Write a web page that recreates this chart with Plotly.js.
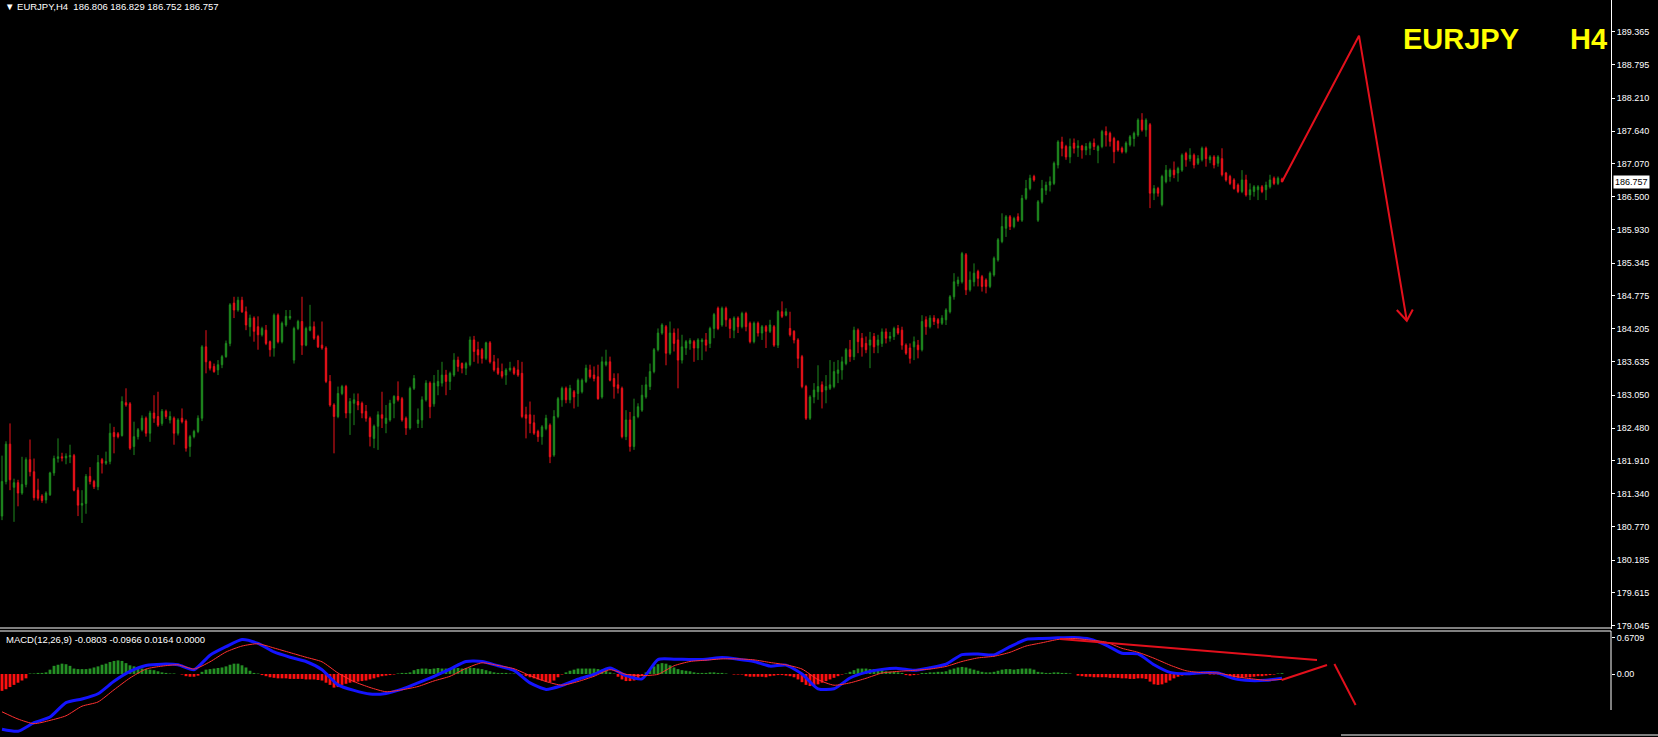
<!DOCTYPE html>
<html>
<head>
<meta charset="utf-8">
<script src="https://cdn.plot.ly/plotly-3.0.1.min.js"></script>
<style>
html,body{margin:0;padding:0;background:#000;}
#chart{width:1658px;height:737px;}
</style>
</head>
<body>
<div id="chart"></div>
<script>
// ---------- EURJPY H4 candles ----------
const open = [
180.95,181.55,182.20,181.45,181.53,181.35,181.50,181.93,181.72,181.40,
181.30,181.23,181.32,181.70,181.95,181.98,181.96,181.98,182.00,181.40,
181.14,181.17,181.64,181.55,181.46,181.93,181.87,181.90,182.40,182.38,
182.35,182.92,182.90,182.16,182.33,182.45,182.65,182.39,182.74,182.68,
182.56,182.77,182.62,182.65,182.39,182.65,182.60,182.16,182.33,182.42,
182.65,183.89,183.63,183.55,183.49,183.58,183.72,183.95,184.65,184.53,
184.70,184.50,184.24,184.39,184.24,184.10,184.18,183.98,183.87,184.44,
183.98,184.27,184.39,183.66,184.21,184.33,183.92,184.18,184.24,184.07,
183.92,183.87,183.29,182.88,182.68,183.08,183.20,182.74,182.91,182.94,
182.91,182.77,182.65,182.30,182.51,182.71,182.56,182.62,182.91,183.03,
182.99,182.65,182.48,183.17,182.56,182.62,182.97,183.26,182.90,183.21,
183.26,183.40,183.29,183.40,183.66,183.60,183.52,183.58,184.01,183.84,
183.84,183.69,183.96,183.63,183.52,183.46,183.40,183.49,183.52,183.49,
183.43,182.71,182.71,182.57,182.42,182.33,182.47,182.53,182.01,182.68,
182.97,183.17,182.97,183.11,183.08,183.11,183.29,183.49,183.40,183.37,
183.02,183.58,183.63,183.34,183.23,183.17,182.33,182.62,182.16,182.68,
182.79,183.02,183.20,183.46,183.84,184.13,184.24,183.78,184.13,184.01,
183.66,183.87,183.95,183.98,183.87,183.98,184.01,183.95,184.21,184.56,
184.27,184.56,184.36,184.18,184.39,184.24,184.47,184.30,183.98,184.30,
184.13,184.24,184.16,184.24,183.92,184.50,184.44,184.21,184.16,184.01,
183.72,183.20,182.65,183.02,183.11,183.23,183.14,183.17,183.20,183.43,
183.49,183.60,183.84,183.72,184.18,184.04,183.95,183.92,184.07,183.92,
183.95,184.15,184.04,184.07,184.21,184.18,183.92,183.87,183.89,183.92,
183.84,184.36,184.24,184.39,184.36,184.30,184.36,184.50,184.76,184.99,
185.02,185.49,184.88,185.02,185.20,185.11,185.05,184.94,185.14,185.40,
185.72,185.95,186.15,185.98,186.15,186.09,186.47,186.64,186.85,186.09,
186.41,186.61,186.70,186.73,187.05,187.45,187.37,187.19,187.43,187.35,
187.38,187.31,187.34,187.43,187.30,187.37,187.63,187.60,187.51,187.46,
187.34,187.28,187.40,187.51,187.57,187.83,187.66,187.75,186.56,186.64,
186.36,186.76,186.85,186.96,186.91,186.96,187.25,187.16,187.22,187.08,
187.14,187.34,187.14,187.19,187.08,187.16,186.91,186.85,186.79,186.70,
186.59,186.79,186.53,186.59,186.62,186.67,186.62,186.67,186.82,186.73,
186.806];

const high = [
182.00,182.25,182.56,181.60,181.58,181.98,181.97,182.28,181.95,181.60,
181.33,181.38,181.72,182.00,182.30,182.05,182.04,182.19,182.03,181.45,
181.40,181.68,181.80,181.58,182.01,181.96,182.07,182.56,182.50,182.41,
183.03,183.17,182.93,182.59,182.48,182.70,182.68,182.78,183.05,183.11,
182.81,182.80,182.77,182.68,182.65,182.82,182.63,182.36,182.45,182.70,
183.92,184.18,183.65,183.60,183.66,183.75,184.00,184.65,184.76,184.76,
184.76,184.59,184.45,184.42,184.42,184.24,184.27,184.00,184.47,184.47,
184.33,184.53,184.53,184.24,184.36,184.76,184.24,184.62,184.33,184.10,
184.33,183.90,183.40,182.91,183.20,183.23,183.23,183.00,183.08,183.08,
182.94,182.88,182.68,182.54,182.77,183.11,182.88,182.97,183.05,183.29,
183.02,182.68,183.20,183.40,182.82,183.03,183.31,183.29,183.40,183.49,
183.63,183.49,183.46,183.78,183.72,183.62,183.63,184.07,184.08,183.98,
183.87,183.98,183.99,183.75,183.69,183.60,183.52,183.63,183.55,183.66,
183.63,182.85,182.94,182.71,182.45,182.53,182.71,182.56,182.79,183.02,
183.20,183.20,183.23,183.14,183.34,183.34,183.58,183.58,183.55,183.58,
183.72,183.84,183.72,183.43,183.43,183.20,182.79,182.76,182.99,182.91,
183.23,183.37,183.60,183.87,184.21,184.30,184.27,184.33,184.21,184.21,
184.10,184.01,184.04,184.01,184.04,184.04,184.13,184.24,184.48,184.59,
184.59,184.59,184.39,184.42,184.42,184.50,184.50,184.33,184.33,184.33,
184.27,184.27,184.36,184.27,184.53,184.68,184.56,184.50,184.18,184.04,
183.75,183.23,183.05,183.26,183.57,183.29,183.40,183.66,183.63,183.66,
183.72,183.87,184.01,184.24,184.21,184.13,184.07,184.15,184.13,184.10,
184.21,184.21,184.15,184.24,184.27,184.24,183.95,183.95,184.07,184.01,
184.44,184.42,184.44,184.44,184.39,184.44,184.56,184.79,185.17,185.11,
185.54,185.52,185.20,185.34,185.23,185.14,185.08,185.20,185.46,185.78,
186.21,186.18,186.18,186.15,186.21,186.53,186.79,186.88,186.88,186.44,
186.79,186.76,186.85,187.11,187.48,187.54,187.40,187.51,187.51,187.48,
187.40,187.43,187.46,187.51,187.40,187.66,187.72,187.63,187.54,187.48,
187.37,187.46,187.57,187.63,187.86,187.95,187.86,187.78,186.70,186.67,
186.88,187.05,186.99,187.11,187.02,187.25,187.28,187.34,187.25,187.22,
187.37,187.37,187.22,187.22,187.22,187.34,186.93,186.88,186.82,186.73,
186.96,186.88,186.73,186.70,186.70,186.70,186.76,186.88,186.85,186.85,
186.829];

const low = [
180.88,181.50,181.40,180.85,181.12,181.32,181.45,181.64,181.22,181.22,
181.18,181.17,181.30,181.65,181.88,181.90,181.85,181.87,181.38,180.95,
180.83,180.99,181.50,181.42,181.40,181.69,181.84,181.85,182.04,182.30,
182.33,182.85,182.10,182.01,182.28,182.42,182.33,182.24,182.57,182.50,
182.52,182.64,182.56,182.19,182.35,182.56,182.07,181.98,182.30,182.39,
182.60,183.43,183.48,183.44,183.40,183.52,183.70,183.90,184.39,184.50,
184.48,184.18,184.07,183.98,183.84,184.07,183.92,183.72,183.72,183.95,
183.95,184.24,184.36,183.60,184.18,183.75,183.90,184.16,184.01,183.87,
183.84,183.26,182.85,182.04,182.65,183.05,182.65,182.36,182.53,182.79,
182.65,182.59,182.16,182.13,182.10,182.48,182.39,182.59,182.65,182.94,
182.59,182.36,182.45,183.14,182.48,182.48,182.94,182.65,182.85,183.05,
183.20,183.05,183.14,183.37,183.46,183.43,183.40,183.55,183.63,183.60,
183.60,183.66,183.60,183.46,183.40,183.34,183.23,183.46,183.40,183.37,
182.65,182.30,182.39,182.36,182.24,182.19,182.44,181.87,181.98,182.65,
182.85,182.91,182.91,182.82,182.85,183.08,183.26,183.34,183.29,182.97,
182.99,183.55,183.29,182.99,183.08,182.30,182.27,182.07,182.10,182.65,
182.76,182.99,183.14,183.43,183.81,184.10,183.57,183.75,183.81,183.17,
183.60,183.75,183.84,183.63,183.66,183.66,183.81,183.87,184.04,184.18,
184.24,184.24,184.04,184.04,184.13,184.21,184.16,183.95,183.95,184.07,
184.01,183.87,184.13,183.89,183.87,184.39,184.42,184.07,183.95,183.52,
183.17,182.62,182.62,182.91,182.97,182.82,182.91,183.14,183.17,183.26,
183.32,183.57,183.63,183.66,183.78,183.72,183.78,183.52,183.78,183.78,
183.89,183.95,183.98,184.01,184.10,183.84,183.75,183.60,183.66,183.69,
183.81,184.10,184.21,184.27,184.21,184.27,184.27,184.47,184.71,184.94,
184.99,184.79,184.85,184.94,184.94,184.85,184.82,184.91,185.11,185.37,
185.69,185.80,185.92,185.95,186.06,186.06,186.44,186.61,186.76,186.06,
186.38,186.53,186.59,186.70,186.99,187.20,187.14,187.08,187.25,187.19,
187.16,187.22,187.22,187.31,187.08,187.34,187.37,187.37,187.08,187.28,
187.25,187.25,187.37,187.37,187.54,187.63,187.54,186.30,186.44,186.50,
186.33,186.73,186.76,186.82,186.76,186.93,187.02,187.11,186.99,187.05,
187.11,187.02,187.08,186.99,187.02,186.85,186.76,186.70,186.62,186.56,
186.56,186.50,186.44,186.50,186.44,186.56,186.44,186.64,186.70,186.70,
186.752];

const close = [
181.55,182.20,181.58,181.53,181.35,181.50,181.93,181.72,181.27,181.26,
181.22,181.35,181.70,181.95,181.98,181.96,181.99,182.00,181.40,181.14,
181.17,181.64,181.55,181.46,181.88,181.87,181.90,182.39,182.33,182.33,
182.94,182.88,182.13,182.33,182.45,182.65,182.39,182.74,182.65,182.53,
182.77,182.68,182.68,182.39,182.62,182.59,182.13,182.33,182.42,182.65,
183.89,183.63,183.52,183.46,183.58,183.72,183.95,184.62,184.53,184.70,
184.50,184.27,184.39,184.16,184.10,184.21,183.95,183.84,184.44,183.98,
184.30,184.42,184.42,184.21,184.33,183.92,184.21,184.24,184.04,183.89,
183.87,183.29,182.88,182.68,183.08,183.20,182.74,182.94,182.97,182.88,
182.74,182.65,182.33,182.51,182.71,182.65,182.65,182.91,183.03,182.97,
182.62,182.48,183.17,183.34,182.62,182.97,183.26,182.85,183.26,183.29,
183.40,183.29,183.43,183.66,183.55,183.52,183.60,184.01,183.81,183.75,
183.69,183.96,183.63,183.49,183.43,183.38,183.49,183.52,183.43,183.40,
182.68,182.65,182.56,182.39,182.33,182.50,182.65,181.98,182.68,182.99,
183.17,182.97,183.17,183.02,183.31,183.31,183.52,183.37,183.34,182.99,
183.63,183.63,183.31,183.20,183.17,182.33,182.62,182.16,182.68,182.85,
183.05,183.23,183.46,183.84,184.13,184.27,183.78,184.13,183.95,183.66,
183.89,183.98,184.00,183.87,184.01,184.01,183.92,184.21,184.45,184.21,
184.56,184.36,184.21,184.39,184.24,184.47,184.24,183.98,184.30,184.13,
184.24,184.16,184.27,183.92,184.50,184.42,184.50,184.10,184.01,183.69,
183.20,182.65,183.02,183.14,183.20,183.11,183.20,183.23,183.46,183.49,
183.63,183.84,183.72,184.18,183.98,183.89,183.84,184.01,183.89,184.01,
184.15,184.04,184.07,184.21,184.13,183.92,183.78,183.69,183.98,183.84,
184.33,184.24,184.39,184.33,184.30,184.39,184.53,184.76,185.02,185.05,
185.51,184.88,185.05,185.17,185.08,184.94,184.94,185.17,185.43,185.75,
185.98,186.15,185.98,186.12,186.09,186.47,186.64,186.82,186.79,186.41,
186.64,186.70,186.76,187.08,187.45,187.34,187.19,187.37,187.34,187.38,
187.31,187.37,187.43,187.37,187.37,187.63,187.57,187.46,187.28,187.31,
187.28,187.43,187.54,187.60,187.83,187.66,187.83,186.56,186.64,186.56,
186.85,186.96,186.96,186.88,186.99,187.22,187.14,187.22,187.05,187.16,
187.34,187.16,187.19,187.05,187.19,186.88,186.79,186.73,186.64,186.59,
186.79,186.53,186.62,186.67,186.67,186.59,186.70,186.79,186.73,186.82,
186.757];

// price axis tick labels
const priceTicks = [189.365,188.795,188.210,187.640,187.070,186.500,185.930,185.345,184.775,
  184.205,183.635,183.050,182.480,181.910,181.340,180.770,180.185,179.615,179.045];
const priceTickText = ["189.365","188.795","188.210","187.640","187.070","186.500","185.930","185.345","184.775",
  "184.205","183.635","183.050","182.480","181.910","181.340","180.770","180.185","179.615","179.045"];
const lastPrice = 186.757;

// ---------- MACD(12,26,9), read every 4th bar ----------
const macdStep = 4;
const macdMain = [
-1.016,-1.052,-0.895,-0.792,-0.526,-0.459,-0.363,-0.133,0.048,0.157,
0.181,0.169,0.079,0.345,0.502,0.635,0.562,0.405,0.308,0.230,
0.079,-0.200,-0.302,-0.369,-0.357,-0.278,-0.163,-0.042,0.091,0.230,
0.230,0.151,0.067,-0.163,-0.284,-0.212,-0.097,-0.006,0.109,-0.030,
-0.091,0.266,0.272,0.266,0.272,0.302,0.272,0.230,0.145,0.163,
0.000,-0.272,-0.272,-0.073,0.030,0.085,0.103,0.067,0.115,0.181,
0.357,0.369,0.351,0.502,0.635,0.653,0.665,0.671,0.641,0.532,
0.381,0.369,0.169,0.030,0.006,0.024,0.018,-0.085,-0.121,-0.115,
-0.080];
const macdSignal = [
-0.695,-0.828,-0.913,-0.853,-0.768,-0.592,-0.514,-0.290,-0.073,0.091,
0.145,0.169,0.091,0.224,0.405,0.514,0.556,0.478,0.393,0.308,
0.224,0.018,-0.139,-0.248,-0.326,-0.290,-0.230,-0.127,-0.042,0.103,
0.206,0.157,0.097,-0.030,-0.139,-0.206,-0.139,-0.042,0.079,-0.006,
-0.030,-0.006,0.151,0.230,0.254,0.278,0.278,0.260,0.212,0.169,
0.091,-0.103,-0.206,-0.163,-0.079,0.018,0.048,0.067,0.091,0.139,
0.230,0.296,0.326,0.399,0.514,0.574,0.635,0.653,0.623,0.586,
0.472,0.399,0.290,0.163,0.060,0.024,0.018,-0.042,-0.085,-0.115,
-0.097];
const macdHist = [
-0.31,-0.28,-0.24,-0.20,-0.16,-0.12,-0.08,0.01,0.01,0.02,
0.02,0.03,0.08,0.15,0.17,0.19,0.18,0.15,0.10,0.09,
0.09,0.09,0.10,0.12,0.14,0.17,0.19,0.22,0.24,0.25,
0.24,0.20,0.16,0.14,0.12,0.10,0.09,0.08,0.07,0.05,
0.03,0.02,0.01,0.01,0.00,-0.01,-0.04,-0.05,-0.05,-0.03,
0.04,0.08,0.09,0.10,0.11,0.12,0.14,0.17,0.19,0.19,
0.16,0.12,0.06,0.02,0.01,-0.02,-0.04,-0.06,-0.07,-0.08,
-0.08,-0.08,-0.09,-0.09,-0.09,-0.09,-0.10,-0.10,-0.10,-0.11,
-0.12,-0.16,-0.20,-0.25,-0.24,-0.20,-0.18,-0.16,-0.15,-0.14,
-0.13,-0.12,-0.10,-0.08,-0.06,-0.04,-0.03,-0.02,-0.01,0.01,
0.02,0.02,0.03,0.07,0.09,0.10,0.10,0.09,0.10,0.11,
0.10,0.10,0.11,0.11,0.11,0.10,0.11,0.12,0.11,0.10,
0.09,0.07,0.05,0.03,0.02,0.02,0.02,0.01,0.01,0.00,
-0.01,-0.04,-0.06,-0.08,-0.10,-0.12,-0.14,-0.15,-0.12,-0.06,
-0.01,0.03,0.06,0.08,0.10,0.10,0.10,0.10,0.10,0.09,
0.08,0.06,0.03,0.01,-0.05,-0.10,-0.13,-0.13,-0.12,-0.08,
-0.03,0.03,0.08,0.14,0.18,0.20,0.19,0.16,0.12,0.09,
0.07,0.06,0.05,0.03,0.02,0.02,0.02,0.03,0.03,0.02,
0.02,0.01,0.00,-0.01,-0.01,-0.01,-0.04,-0.05,-0.05,-0.05,
-0.05,-0.06,-0.04,-0.03,-0.02,-0.02,-0.03,-0.04,-0.06,-0.10,
-0.15,-0.20,-0.22,-0.21,-0.19,-0.16,-0.13,-0.10,-0.07,-0.04,
-0.01,0.01,0.04,0.07,0.10,0.10,0.10,0.09,0.09,0.08,
0.07,0.05,0.04,0.04,0.03,0.02,-0.02,-0.03,-0.02,-0.01,
0.02,0.02,0.03,0.03,0.04,0.04,0.05,0.08,0.10,0.12,
0.13,0.12,0.10,0.08,0.06,0.04,0.03,0.03,0.04,0.06,
0.08,0.09,0.09,0.08,0.09,0.10,0.10,0.10,0.08,0.04,
0.03,0.02,0.02,0.03,0.03,0.02,0.02,0.01,0.00,-0.03,
-0.04,-0.05,-0.05,-0.06,-0.06,-0.06,-0.06,-0.07,-0.07,-0.07,
-0.08,-0.08,-0.09,-0.09,-0.08,-0.08,-0.09,-0.14,-0.19,-0.20,
-0.19,-0.16,-0.12,-0.08,-0.05,-0.03,-0.02,-0.02,-0.01,0.00,
0.00,0.00,-0.01,-0.01,-0.01,-0.02,-0.05,-0.06,-0.07,-0.07,
-0.06,-0.06,-0.06,-0.05,-0.04,-0.04,-0.03,-0.02,-0.01,0.01,
0.016];
const macdTickVals = [0.6709, 0];
const macdTickText = ["0.6709", "0.00"];

// ---------- hand-drawn forecast lines (bar index, value) ----------
const zigBar   = [320, 339.25, 351.2];
const zigPrice = [186.757, 189.296, 184.344];
const headBar   = [348.7, 351.2, 352.7];
const headPrice = [184.53, 184.344, 184.54];
const divBar  = [264.5, 328.75, null, 319.9, 331.25, null, 333.1, 338.4];
const divMacd = [0.643, 0.257, null, -0.110, 0.165, null, 0.184, -0.570];

// ---------- drawing ----------
const W = 1658, H = 737, PLOT_W = 1611;
const GREEN = '#1f8a1f', RED = '#ec121a', DRAW_RED = '#e3101c';
const HIST_GREEN = '#259025', HIST_RED = '#ff1010';
const bars = close.map((_, i) => i);
const macdBars = macdMain.map((_, k) => k * macdStep);
const xr = [-0.5, -0.5 + PLOT_W / 4];
const px = v => v / PLOT_W;           // horizontal pixel -> paper
const py = v => 1 - v / H;            // vertical pixel -> paper

const traces = [
  {
    type: 'candlestick', x: bars, open: open, high: high, low: low, close: close,
    xaxis: 'x', yaxis: 'y', hoverinfo: 'skip', whiskerwidth: 0,
    increasing: {line: {color: GREEN, width: 1}, fillcolor: GREEN},
    decreasing: {line: {color: RED, width: 1}, fillcolor: RED}
  },
  {
    type: 'scatter', mode: 'lines', x: zigBar, y: zigPrice, xaxis: 'x', yaxis: 'y',
    line: {color: DRAW_RED, width: 2}, hoverinfo: 'skip'
  },
  {
    type: 'scatter', mode: 'lines', x: headBar, y: headPrice, xaxis: 'x', yaxis: 'y',
    line: {color: DRAW_RED, width: 2}, hoverinfo: 'skip'
  },
  {
    type: 'bar', x: bars, y: macdHist, xaxis: 'x2', yaxis: 'y2', width: 0.7,
    marker: {color: macdHist.map(v => v >= 0 ? HIST_GREEN : HIST_RED), line: {width: 0}}, hoverinfo: 'skip'
  },
  {
    type: 'scatter', mode: 'lines', x: macdBars, y: macdMain, xaxis: 'x2', yaxis: 'y2',
    line: {color: '#1414ff', width: 3, shape: 'spline', smoothing: 0.6}, hoverinfo: 'skip'
  },
  {
    type: 'scatter', mode: 'lines', x: macdBars, y: macdSignal, xaxis: 'x2', yaxis: 'y2',
    line: {color: '#ff3030', width: 1, shape: 'spline', smoothing: 0.6}, hoverinfo: 'skip'
  },
  {
    type: 'scatter', mode: 'lines', x: divBar, y: divMacd, xaxis: 'x2', yaxis: 'y2',
    line: {color: DRAW_RED, width: 2}, connectgaps: false, hoverinfo: 'skip'
  }
];

const tickFont = {family: 'Liberation Sans, Arial, sans-serif', size: 9, color: '#ffffff'};
const priceTop = 189.916, pxPerUnit = 57.56, priceBottomPx = 628.5;
const macdZeroPx = 674, macdPxPerUnit = 54.4, macdTopPx = 631;

const layout = {
  width: W, height: H,
  margin: {l: 0, r: W - PLOT_W, t: 0, b: 0, pad: 0},
  paper_bgcolor: '#000000', plot_bgcolor: '#000000',
  showlegend: false, boxgap: 0.5, bargap: 0.3,
  font: tickFont,
  xaxis: {domain: [0, 1], range: xr, anchor: 'y', visible: false,
          rangeslider: {visible: false}, showgrid: false, zeroline: false},
  xaxis2: {domain: [0, 1], range: xr, anchor: 'y2', visible: false, showgrid: false, zeroline: false},
  yaxis: {
    domain: [py(priceBottomPx), 1],
    range: [priceTop - priceBottomPx / pxPerUnit, priceTop],
    side: 'right', anchor: 'x', showgrid: false, zeroline: false,
    showline: true, linecolor: '#ffffff', linewidth: 1,
    ticks: 'outside', ticklen: 3, tickcolor: '#ffffff', tickwidth: 1,
    tickmode: 'array', tickvals: priceTicks, ticktext: priceTickText, tickfont: tickFont
  },
  yaxis2: {
    domain: [0, py(macdTopPx)],
    range: [(macdZeroPx - H) / macdPxPerUnit, (macdZeroPx - macdTopPx) / macdPxPerUnit],
    side: 'right', anchor: 'x2', showgrid: false, zeroline: false, showline: false,
    ticks: 'outside', ticklen: 3, tickcolor: '#ffffff', tickwidth: 1,
    tickmode: 'array', tickvals: macdTickVals, ticktext: macdTickText, tickfont: tickFont
  },
  shapes: [
    {type: 'line', xref: 'paper', yref: 'paper', x0: 0, x1: 1, y0: py(628), y1: py(628), line: {color: '#ffffff', width: 1}},
    {type: 'line', xref: 'paper', yref: 'paper', x0: 0, x1: 1, y0: py(631), y1: py(631), line: {color: '#ffffff', width: 1}},
    {type: 'line', xref: 'paper', yref: 'paper', x0: 1, x1: 1, y0: py(631), y1: py(710), line: {color: '#ffffff', width: 1}},
    {type: 'line', xref: 'paper', yref: 'paper', x0: px(1341), x1: px(1658), y0: py(735), y1: py(735), line: {color: '#ffffff', width: 1}}
  ],
  annotations: [
    {xref: 'paper', yref: 'paper', x: px(3), y: py(6.5), xanchor: 'left', yanchor: 'middle', showarrow: false,
     text: '\u25BC EURJPY,H4\u00A0\u00A0186.806 186.829 186.752 186.757',
     font: {family: 'Liberation Sans, Arial, sans-serif', size: 9.5, color: '#ffffff'}},
    {xref: 'paper', yref: 'paper', x: px(4), y: py(639), xanchor: 'left', yanchor: 'middle', showarrow: false,
     text: 'MACD(12,26,9) -0.0803 -0.0966 0.0164 0.0000',
     font: {family: 'Liberation Sans, Arial, sans-serif', size: 9.5, color: '#ffffff'}},
    {xref: 'paper', yref: 'paper', x: px(1401), y: py(38.5), xanchor: 'left', yanchor: 'middle', showarrow: false,
     text: '<b>EURJPY</b>', font: {family: 'Liberation Sans, Arial, sans-serif', size: 29, color: '#ffff00'}},
    {xref: 'paper', yref: 'paper', x: px(1567.5), y: py(38.5), xanchor: 'left', yanchor: 'middle', showarrow: false,
     text: '<b>H4</b>', font: {family: 'Liberation Sans, Arial, sans-serif', size: 29, color: '#ffff00'}},
    {xref: 'paper', yref: 'y', x: px(1613), y: lastPrice, xanchor: 'left', yanchor: 'middle', showarrow: false,
     text: '186.757', bgcolor: '#ffffff', borderpad: 1,
     font: {family: 'Liberation Sans, Arial, sans-serif', size: 9, color: '#000000'}}
  ]
};

Plotly.newPlot('chart', traces, layout, {staticPlot: true, displayModeBar: false});
</script>
</body>
</html>
